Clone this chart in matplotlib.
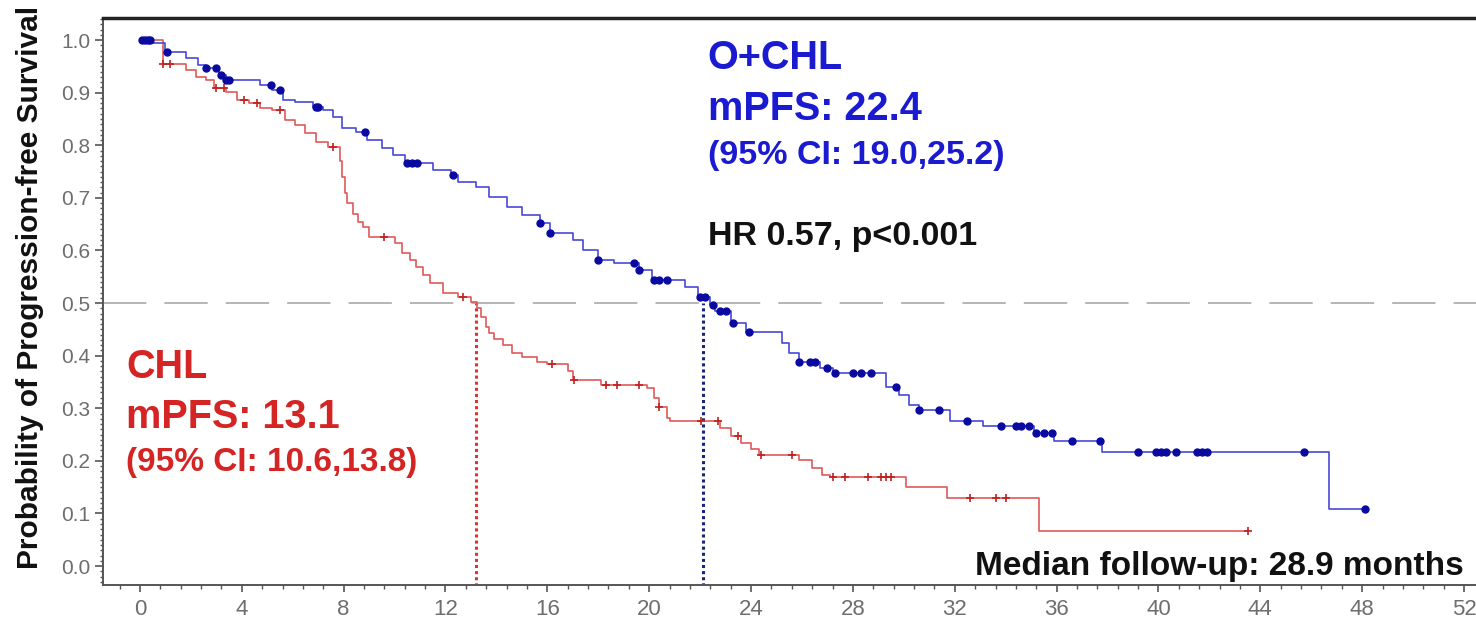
import numpy as np
import matplotlib
matplotlib.use("Agg")
import matplotlib.pyplot as plt
from matplotlib.ticker import AutoMinorLocator, MultipleLocator

plt.rcParams['font.family'] = ['Liberation Sans', 'DejaVu Sans']

# O+CHL arm: event times (months) and survival after each step
ochl_t = [0, 0.5, 1.0, 1.8, 2.3, 2.6, 3.1, 3.4, 4.7, 5.2, 5.6, 6.1, 6.8, 7.2, 7.6,
          7.95, 8.5, 8.9, 9.5, 9.95, 10.4, 11.5, 12.2, 12.5, 13.2, 13.7, 14.4, 15.0,
          15.7, 16.1, 17.0, 17.4, 18.0, 18.6, 19.6, 20.1, 21.4, 21.9, 22.4, 22.6,
          23.2, 23.8, 25.2, 25.5, 25.9, 26.7, 27.2, 29.3, 29.8, 30.2, 30.6, 31.8,
          33.1, 35.1, 35.9, 37.8, 46.7]
ochl_s = [1.0, 0.994, 0.977, 0.966, 0.952, 0.947, 0.933, 0.924, 0.914, 0.905, 0.886,
          0.882, 0.873, 0.867, 0.854, 0.833, 0.825, 0.81, 0.795, 0.781, 0.766, 0.753,
          0.743, 0.73, 0.72, 0.702, 0.683, 0.668, 0.652, 0.633, 0.62, 0.6, 0.582,
          0.576, 0.563, 0.544, 0.53, 0.511, 0.497, 0.485, 0.462, 0.445, 0.424, 0.405,
          0.388, 0.376, 0.367, 0.34, 0.325, 0.306, 0.297, 0.276, 0.266, 0.253, 0.238,
          0.217, 0.108]
ochl_end = 48.1
ochl_cens = [0.1, 0.2, 0.3, 0.4, 1.05, 2.6, 3.0, 3.2, 3.4, 3.5, 5.15, 5.5, 6.9, 7.0,
             8.85, 10.5, 10.7, 10.9, 12.3, 15.7, 16.1, 18.0, 19.4, 19.6, 20.2, 20.4,
             20.7, 22.0, 22.2, 22.5, 22.8, 23.0, 23.3, 23.9, 25.9, 26.3, 26.5, 27.0,
             27.3, 28.0, 28.3, 28.7, 29.7, 30.6, 31.4, 32.5, 33.8, 34.4, 34.6, 34.9,
             35.2, 35.5, 35.8, 36.6, 37.7, 39.2, 39.9, 40.1, 40.3, 40.7, 41.5, 41.7,
             41.9, 45.7, 48.1]

# CHL arm
chl_t = [0, 0.9, 1.8, 2.2, 2.6, 2.9, 3.4, 3.8, 4.3, 4.7, 5.2, 5.7, 6.1, 6.5, 6.9,
         7.4, 7.85, 7.95, 8.05, 8.15, 8.35, 8.55, 8.75, 9.0, 10.0, 10.3, 10.6, 10.85,
         11.1, 11.4, 11.9, 12.5, 13.0, 13.25, 13.4, 13.6, 13.7, 13.9, 14.25, 14.6,
         15.0, 15.6, 16.0, 16.8, 17.0, 18.1, 19.9, 20.2, 20.4, 20.7, 20.8, 22.8, 23.2,
         23.6, 24.0, 24.3, 25.9, 26.4, 26.8, 27.1, 30.1, 31.7, 35.3]
chl_s = [1.0, 0.955, 0.943, 0.93, 0.924, 0.909, 0.901, 0.886, 0.88, 0.871, 0.867,
         0.848, 0.838, 0.823, 0.806, 0.797, 0.77, 0.74, 0.71, 0.69, 0.67, 0.655, 0.645,
         0.626, 0.614, 0.595, 0.582, 0.568, 0.553, 0.538, 0.519, 0.511, 0.502, 0.49,
         0.473, 0.455, 0.443, 0.431, 0.42, 0.405, 0.397, 0.388, 0.384, 0.37, 0.354,
         0.344, 0.338, 0.32, 0.303, 0.281, 0.276, 0.262, 0.247, 0.234, 0.222, 0.211,
         0.202, 0.186, 0.173, 0.169, 0.15, 0.13, 0.067]
chl_end = 43.5
chl_cens = [0.9, 1.2, 3.0, 3.3, 4.1, 4.6, 5.5, 7.6, 9.6, 12.7, 16.2, 17.05, 18.3,
            18.75, 19.6, 20.4, 22.05, 22.7, 23.5, 24.4, 25.6, 27.2, 27.7, 28.6, 29.1,
            29.3, 29.5, 32.6, 33.6, 34.0, 43.5]

median_chl = 13.2
median_ochl = 22.1

blue_line = '#4848d8'
blue_mark = '#0a0aa0'
red_line = '#e05a5a'
red_mark = '#c02020'


def step_value(t, s, x):
    idx = np.searchsorted(t, x, side='right') - 1
    return np.asarray(s)[idx]


fig = plt.figure(figsize=(14.76, 6.21), dpi=100)
ax = fig.add_axes([103 / 1476, 1 - 585 / 621, 1 - 103 / 1476, (585 - 18) / 621])

ax.axhline(0.5, color='#b0b0b0', lw=1.3, dashes=(24, 10), zorder=1)
ax.plot([median_chl, median_chl], [-0.05, 0.5], color='#e03030', lw=2.2, ls=(0, (1, 1)), zorder=2)
ax.plot([median_ochl, median_ochl], [-0.05, 0.5], color='#1a237e', lw=2.2, ls=(0, (1, 1)), zorder=2)

# step curves
ax.step(chl_t + [chl_end], chl_s + [chl_s[-1]], where='post', color=red_line, lw=1.2, zorder=3)
ax.step(ochl_t + [ochl_end], ochl_s + [ochl_s[-1]], where='post', color=blue_line, lw=1.2, zorder=4)

# censor marks
ax.plot(chl_cens, step_value(chl_t, chl_s, np.array(chl_cens)), ls='none', marker='+',
        ms=6, mew=1.2, color=red_mark, zorder=5)
ax.plot(ochl_cens, step_value(ochl_t, ochl_s, np.array(ochl_cens)), ls='none', marker='o',
        ms=5, color=blue_mark, zorder=6)

ax.set_xlim(-1.45, 52.47)
ax.set_ylim(-0.036, 1.042)
ax.xaxis.set_major_locator(MultipleLocator(4))
ax.xaxis.set_minor_locator(AutoMinorLocator(5))
ax.yaxis.set_major_locator(MultipleLocator(0.1))
ax.yaxis.set_minor_locator(AutoMinorLocator(10))
ax.yaxis.set_major_formatter(plt.FormatStrFormatter('%.1f'))

ax.tick_params(axis='both', which='major', direction='out', colors='#555555',
               labelcolor='#6e6e6e', labelsize=15)
ax.tick_params(axis='y', which='major', length=6, width=1.2, pad=3)
ax.tick_params(axis='y', which='minor', length=2.5, width=1.0, colors='#555555')
ax.tick_params(axis='x', which='major', length=5, width=1.2, pad=5, labelsize=16)
ax.tick_params(axis='x', which='minor', length=3, width=1.0, colors='#555555')

for side in ['left', 'bottom']:
    ax.spines[side].set_color('#555555')
    ax.spines[side].set_linewidth(1.4)
ax.spines['top'].set_color('#222222')
ax.spines['top'].set_linewidth(2.5)
ax.spines['right'].set_visible(False)

fig.text(30 / 1476, 1 - 287 / 621, 'Probability of Progression-free Survival', rotation=90,
         ha='center', va='center', fontsize=21.5, fontweight='bold', color='#111111')

blue_txt = '#1a1ad0'
red_txt = '#d42424'
ax.text(22.3, 0.966, 'O+CHL', color=blue_txt, fontsize=28.5, fontweight='bold', va='center')
ax.text(22.3, 0.869, 'mPFS: 22.4', color=blue_txt, fontsize=28.5, fontweight='bold', va='center')
ax.text(22.3, 0.78, '(95% CI: 19.0,25.2)', color=blue_txt, fontsize=24.5, fontweight='bold', va='center')
ax.text(22.3, 0.627, 'HR 0.57, p<0.001', color='#111111', fontsize=24.5, fontweight='bold', va='center')

ax.text(-0.55, 0.378, 'CHL', color=red_txt, fontsize=28.5, fontweight='bold', va='center')
ax.text(-0.55, 0.283, 'mPFS: 13.1', color=red_txt, fontsize=28.5, fontweight='bold', va='center')
ax.text(-0.55, 0.196, '(95% CI: 10.6,13.8)', color=red_txt, fontsize=24, fontweight='bold', va='center')

ax.text(52.0, 0.0, 'Median follow-up: 28.9 months', color='#111111', fontsize=24,
        fontweight='bold', ha='right', va='center')

fig.savefig('out.png', dpi=100)
